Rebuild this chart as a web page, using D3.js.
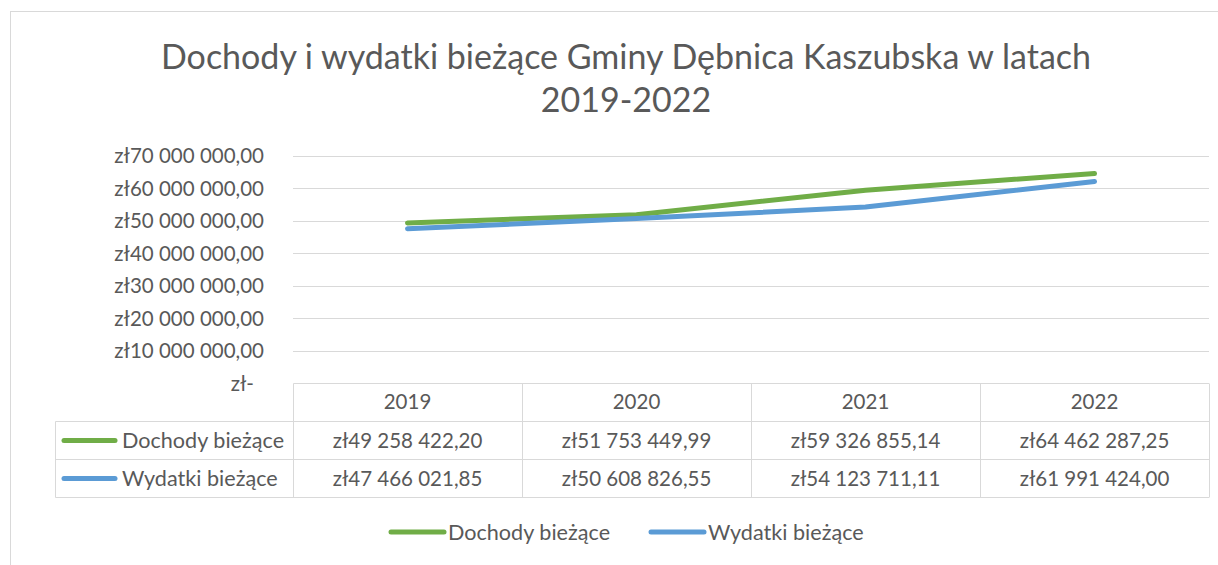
<!DOCTYPE html>
<html>
<head>
<meta charset="utf-8">
<script src="https://cdn.jsdelivr.net/npm/d3@7"></script>
<style>
  body { margin: 0; background: #fff; }
  text { font-family: Lato, "Noto Sans", sans-serif; fill: #595959; }
</style>
</head>
<body>
<div id="plot"></div>
<script>
// data
var years = ['2019', '2020', '2021', '2022'];
var dochody = [49258422.20, 51753449.99, 59326855.14, 64462287.25];
var wydatki = [47466021.85, 50608826.55, 54123711.11, 61991424.00];
var seriesNames = ['Dochody bieżące', 'Wydatki bieżące'];
var seriesColors = ['#70AD47', '#5B9BD5'];
var yTicks = [0, 10000000, 20000000, 30000000, 40000000, 50000000, 60000000, 70000000];
var titleLines = ['Dochody i wydatki bieżące Gminy Dębnica Kaszubska w latach', '2019-2022'];

var W = 1218, H = 565;
var plotL = 293, plotR = 1209, plotT = 155.5, plotB = 383;
var rowH = 38;

var svg = d3.select('#plot').append('svg')
  .attr('width', W).attr('height', H);

// chart border
svg.append('rect')
  .attr('x', 10.5).attr('y', 11.5)
  .attr('width', W + 20).attr('height', H + 20)
  .attr('fill', 'none').attr('stroke', '#d9d9d9');

// title
svg.selectAll('.title').data(titleLines).enter().append('text')
  .attr('class', 'title')
  .attr('x', 626)
  .attr('y', function(d, i) { return 69 + i * 43; })
  .attr('text-anchor', 'middle')
  .style('font-size', '34px')
  .text(function(d) { return d; });

var x = d3.scaleBand().domain(years).range([plotL, plotR]);
var y = d3.scaleLinear().domain([0, 70000000]).range([plotB, plotT]);

function fmt(v) {
  if (v === 0) return 'zł-';
  var parts = v.toFixed(2).split('.');
  var intPart = parts[0].replace(/\B(?=(\d{3})+(?!\d))/g, ' ');
  return 'zł' + intPart + ',' + parts[1];
}

// gridlines
svg.append('g').selectAll('line').data(yTicks.filter(function(d) { return d > 0; }))
  .enter().append('line')
  .attr('x1', plotL).attr('x2', plotR)
  .attr('y1', function(d) { return Math.round(y(d)) + 0.5; })
  .attr('y2', function(d) { return Math.round(y(d)) + 0.5; })
  .attr('stroke', '#d9d9d9').attr('stroke-width', 1);

// y axis labels
var yAxis = d3.axisLeft(y).tickValues(yTicks).tickSize(0).tickPadding(29).tickFormat(fmt);
var ya = svg.append('g').attr('transform', 'translate(' + plotL + ',0)').call(yAxis);
ya.select('.domain').remove();
ya.selectAll('text')
  .style('font-size', '20.5px').style('font-family', 'Lato, sans-serif').attr('fill', '#595959')
  .attr('dy', '0.35em')
  .attr('x', function(d) { return d === 0 ? -39 : -29; });

// lines
var series = [dochody, wydatki];
var line = d3.line()
  .x(function(d, i) { return x(years[i]) + x.bandwidth() / 2; })
  .y(function(d) { return y(d); });

svg.append('g').selectAll('path').data(series).enter().append('path')
  .attr('d', line)
  .attr('fill', 'none')
  .attr('stroke', function(d, i) { return seriesColors[i]; })
  .attr('stroke-width', 5)
  .attr('stroke-linecap', 'round')
  .attr('stroke-linejoin', 'round');

// data table
var table = svg.append('g');
var tableL = 55.5;
var bc = '#d9d9d9';
var r0 = plotB + 0.5, r1 = r0 + rowH, r2 = r1 + rowH, r3 = r2 + rowH;
// horizontal lines
table.append('line').attr('x1', plotL + 0.5).attr('x2', plotR).attr('y1', r0).attr('y2', r0).attr('stroke', bc);
[r1, r2, r3].forEach(function(yy) {
  table.append('line').attr('x1', tableL).attr('x2', plotR).attr('y1', yy).attr('y2', yy).attr('stroke', bc);
});
// vertical lines
table.append('line').attr('x1', tableL).attr('x2', tableL).attr('y1', r1).attr('y2', r3).attr('stroke', bc);
years.forEach(function(yr) {
  var xx = Math.round(x(yr)) + 0.5;
  table.append('line').attr('x1', xx).attr('x2', xx).attr('y1', r0).attr('y2', r3).attr('stroke', bc);
});
table.append('line').attr('x1', plotR + 0.5).attr('x2', plotR + 0.5).attr('y1', r0).attr('y2', r3).attr('stroke', bc);

// header
table.selectAll('.yr').data(years).enter().append('text')
  .attr('x', function(d) { return x(d) + x.bandwidth() / 2; })
  .attr('y', r0 + rowH / 2 - 1)
  .attr('dy', '0.35em')
  .attr('text-anchor', 'middle')
  .style('font-size', '20.5px')
  .text(function(d) { return d; });

series.forEach(function(s, si) {
  var rowTop = r1 + si * rowH;
  table.append('line')
    .attr('x1', 64).attr('x2', 115)
    .attr('y1', rowTop + rowH / 2).attr('y2', rowTop + rowH / 2)
    .attr('stroke', seriesColors[si]).attr('stroke-width', 5).attr('stroke-linecap', 'round');
  table.append('text')
    .attr('x', 122).attr('y', rowTop + rowH / 2).attr('dy', '0.35em')
    .style('font-size', '21.6px')
    .text(seriesNames[si]);
  table.selectAll('.v' + si).data(s).enter().append('text')
    .attr('x', function(d, i) { return x(years[i]) + x.bandwidth() / 2; })
    .attr('y', rowTop + rowH / 2).attr('dy', '0.35em')
    .attr('text-anchor', 'middle')
    .style('font-size', '20.5px')
    .text(function(d) { return fmt(d); });
});

// legend
var legendX = [391, 651];
var legend = svg.append('g');
seriesNames.forEach(function(n, i) {
  legend.append('line')
    .attr('x1', legendX[i]).attr('x2', legendX[i] + 53)
    .attr('y1', 532).attr('y2', 532)
    .attr('stroke', seriesColors[i]).attr('stroke-width', 5).attr('stroke-linecap', 'round');
  legend.append('text')
    .attr('x', legendX[i] + 57).attr('y', 532).attr('dy', '0.35em')
    .style('font-size', '21.6px')
    .text(n);
});
</script>
</body>
</html>
